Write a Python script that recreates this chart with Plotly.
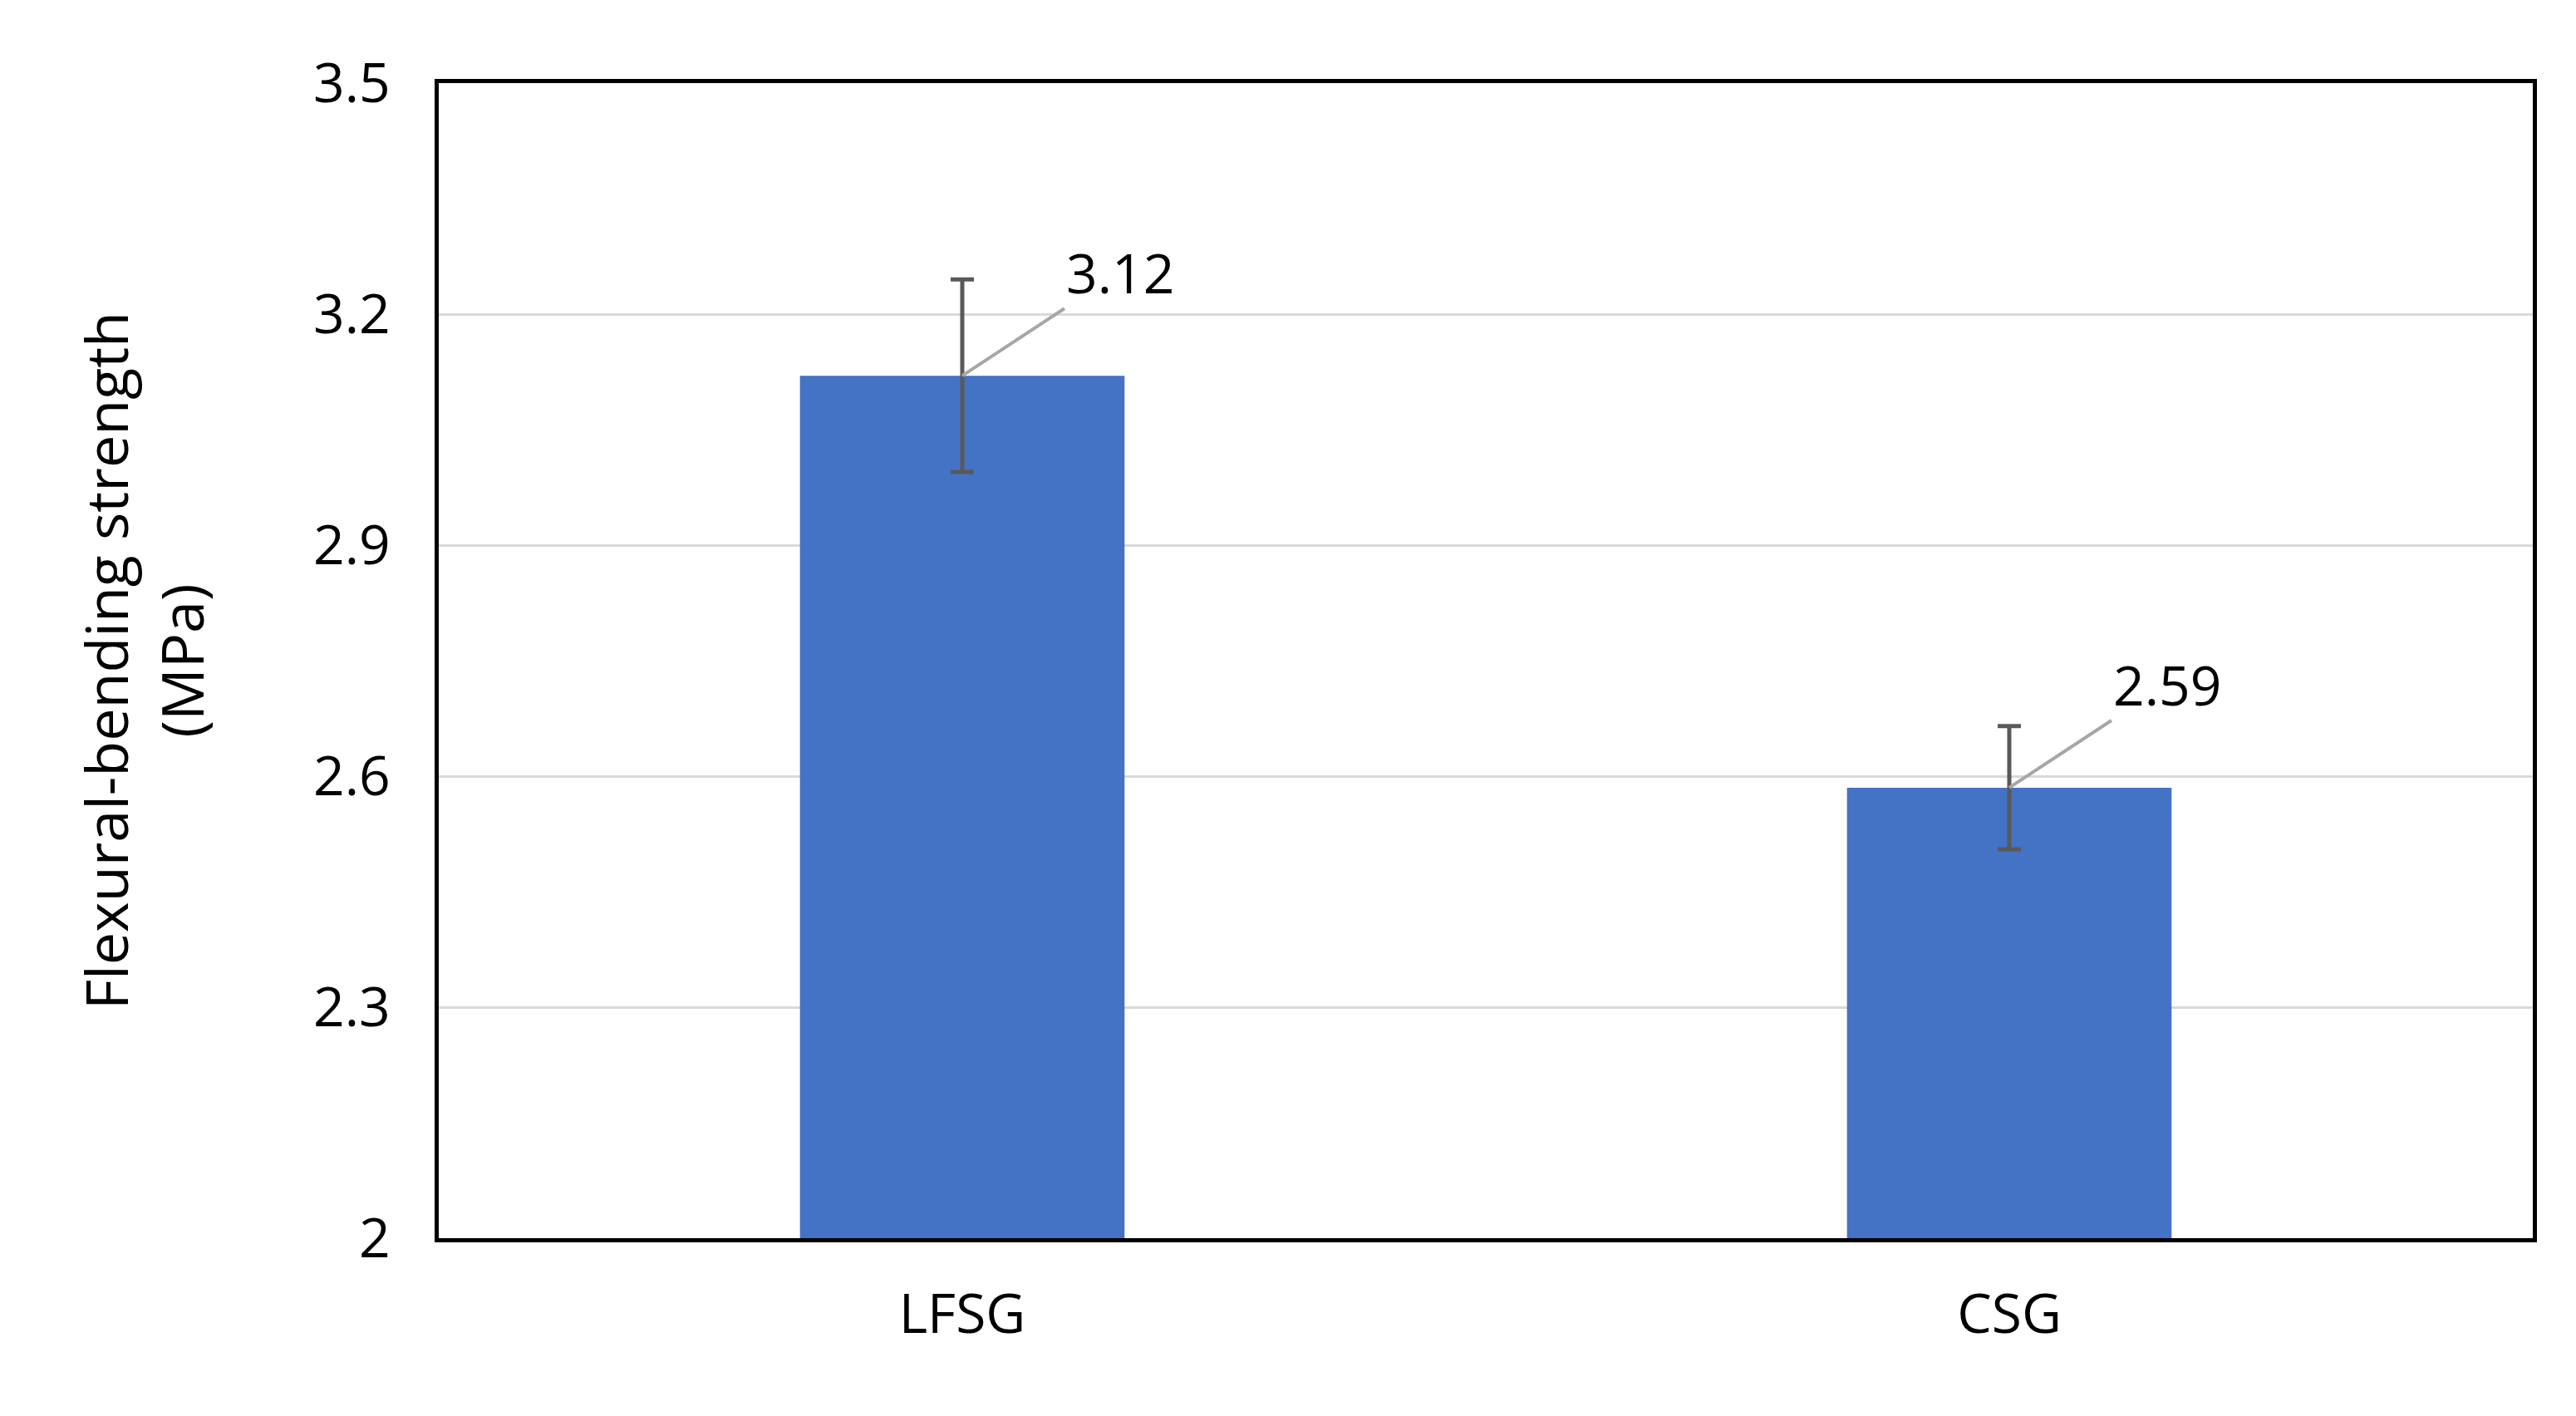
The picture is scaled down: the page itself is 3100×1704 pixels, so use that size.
import plotly.graph_objects as go

categories = ["LFSG", "CSG"]
strength = [3.12, 2.585]
strength_err = [0.125, 0.08]
value_labels = ["3.12", "2.59"]
y_ticks = [2, 2.3, 2.6, 2.9, 3.2, 3.5]
y_tick_text = ["2", "2.3", "2.6", "2.9", "3.2", "3.5"]

FONT = "Open Sans"

fig = go.Figure()
fig.add_trace(
    go.Bar(
        x=categories,
        y=strength,
        marker={"color": "#4472C4", "line": {"width": 0}},
        error_y={
            "type": "data",
            "array": strength_err,
            "color": "#595959",
            "thickness": 5,
            "width": 14,
        },
    )
)

for cat, val, lab in zip(categories, strength, value_labels):
    fig.add_annotation(
        x=cat,
        y=val,
        text=lab,
        showarrow=True,
        arrowhead=0,
        arrowcolor="#A6A6A6",
        arrowwidth=4,
        ax=190,
        ay=-125,
        standoff=0,
        font={"family": FONT, "size": 66, "color": "#000000"},
    )

fig.update_layout(
    width=3100,
    height=1704,
    paper_bgcolor="white",
    plot_bgcolor="white",
    margin={"l": 520, "r": 60, "t": 92, "b": 222},
    bargap=0.69,
    showlegend=False,
    font={"family": FONT, "size": 66, "color": "#000000"},
)
fig.update_xaxes(
    showline=True,
    linecolor="#000000",
    linewidth=5,
    mirror=True,
    ticks="",
    tickfont={"family": FONT, "size": 66},
    ticklabelstandoff=30,
)
fig.update_yaxes(
    range=[2, 3.5],
    tickvals=y_ticks,
    ticktext=y_tick_text,
    showgrid=True,
    gridcolor="#D9D9D9",
    gridwidth=3,
    showline=True,
    linecolor="#000000",
    linewidth=5,
    mirror=True,
    ticks="",
    zeroline=False,
    tickfont={"family": FONT, "size": 66},
    ticklabelstandoff=40,
    title={
        "text": "Flexural-bending strength<br>(MPa)",
        "font": {"family": FONT, "size": 70},
        "standoff": 110,
    },
)

fig.write_html("out.html")
